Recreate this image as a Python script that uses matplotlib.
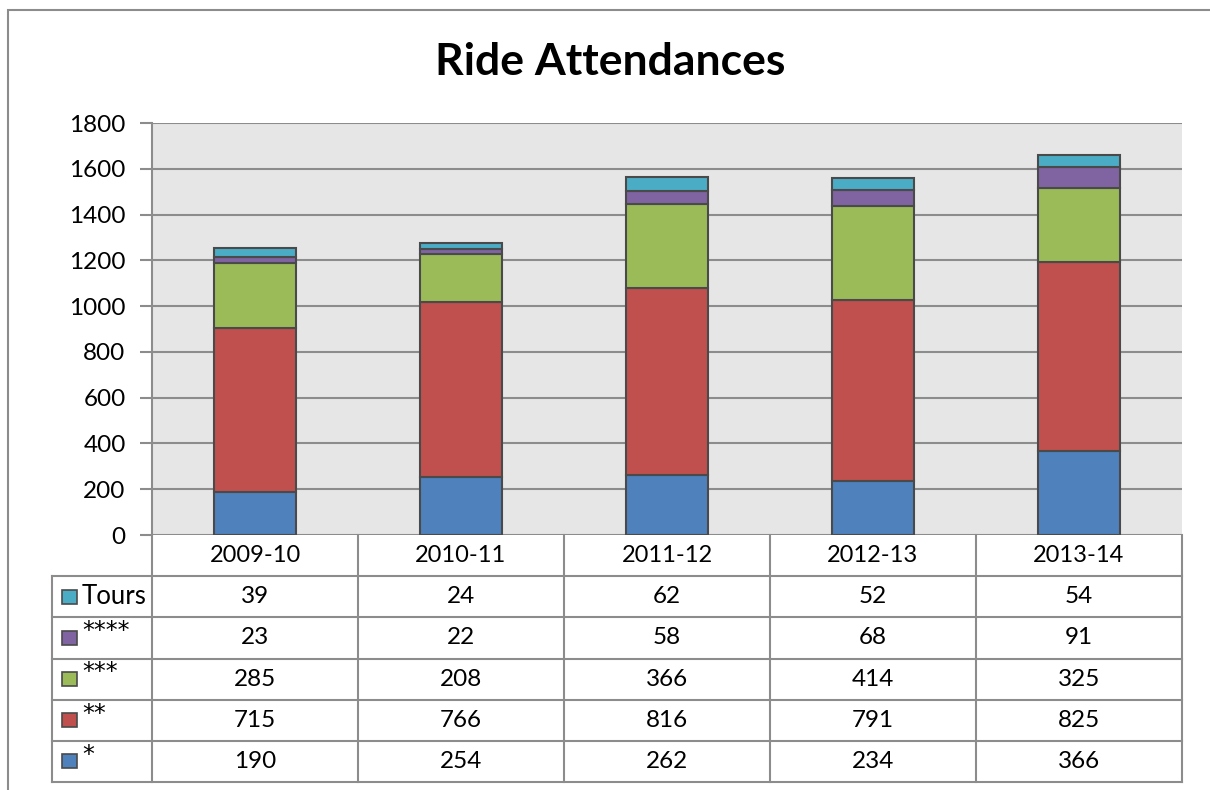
import matplotlib
matplotlib.use("Agg")
from matplotlib import pyplot as plt
from matplotlib.patches import Rectangle
import numpy as np

plt.rcParams['font.family'] = ['Lato', 'DejaVu Sans']

seasons = ['2009-10', '2010-11', '2011-12', '2012-13', '2013-14']
one_star = [190, 254, 262, 234, 366]
two_star = [715, 766, 816, 791, 825]
three_star = [285, 208, 366, 414, 325]
four_star = [23, 22, 58, 68, 91]
tours = [39, 24, 62, 52, 54]

series = [('*', one_star, '#4F81BD'),
          ('**', two_star, '#C0504D'),
          ('***', three_star, '#9BBB59'),
          ('****', four_star, '#8064A2'),
          ('Tours', tours, '#4BACC6')]

W, H = 1210, 790
fig = plt.figure(figsize=(W / 100, H / 100), dpi=100)

def box(l, t, r, b):
    return [l / W, 1 - b / H, (r - l) / W, (b - t) / H]

grey = '#8C8C8C'
edge = '#4A4A4A'

# outer chart border
fig.patches.append(Rectangle((8 / W, -0.1), 1.2, 1 - 10 / H + 0.1, transform=fig.transFigure,
                             fill=False, edgecolor=grey, lw=1.5))

fig.text(610 / W, 1 - 62 / H, 'Ride Attendances', ha='center', va='center',
         fontsize=32, fontweight='bold')

ax = fig.add_axes(box(152, 123, 1182, 535))
ax.set_facecolor('#E6E6E6')
x = np.arange(len(seasons))
bottom = np.zeros(len(seasons))
for name, vals, col in series:
    ax.bar(x, vals, 0.4, bottom=bottom, color=col, edgecolor=edge, lw=1.5, zorder=3)
    bottom += np.array(vals)
ax.set_xlim(-0.5, 4.5)
ax.set_ylim(0, 1800)
ax.set_yticks(range(0, 1801, 200))
ax.yaxis.grid(True, color=grey, lw=1.5, zorder=0)
ax.set_xticks([])
for s in ['top', 'right', 'bottom']:
    ax.spines[s].set_visible(False)
ax.spines['left'].set_color(grey)
ax.spines['left'].set_linewidth(1.5)
ax.tick_params(axis='y', length=9, width=1.5, color=grey, labelsize=17.5, pad=10)

# data table
lw_px = 100 / 206
tax = fig.add_axes(box(52, 535, 1182, 782))
tax.set_xlim(-0.5 - lw_px, 4.5)
tax.set_ylim(0, 6)
tax.axis('off')
lk = dict(color=grey, lw=1.5, clip_on=False)
# horizontal lines
for yy in range(0, 6):
    tax.plot([-0.5 - lw_px, 4.5], [yy, yy], **lk)
# vertical lines
tax.plot([-0.5 - lw_px] * 2, [0, 5], **lk)
for i in range(6):
    tax.plot([i - 0.5] * 2, [0, 6], **lk)

for i, s in enumerate(seasons):
    tax.text(i, 5.5, s, ha='center', va='center', fontsize=17)

for r, (name, vals, col) in enumerate(reversed(series)):
    yc = 4.5 - r
    tax.add_patch(Rectangle((-0.5 - lw_px + 0.05, yc - 0.17), 0.07, 0.34,
                            facecolor=col, edgecolor=edge, lw=1.2, clip_on=False))
    if name == 'Tours':
        tax.text(-0.5 - lw_px + 0.145, yc, name, ha='left', va='center', fontsize=18.5)
    else:
        tax.text(-0.5 - lw_px + 0.145, yc + 0.16, name, ha='left', va='center',
                 fontsize=17, family='DejaVu Sans')
    for i, v in enumerate(vals):
        tax.text(i, yc, str(v), ha='center', va='center', fontsize=17.5)

fig.savefig('out.png', dpi=100)
